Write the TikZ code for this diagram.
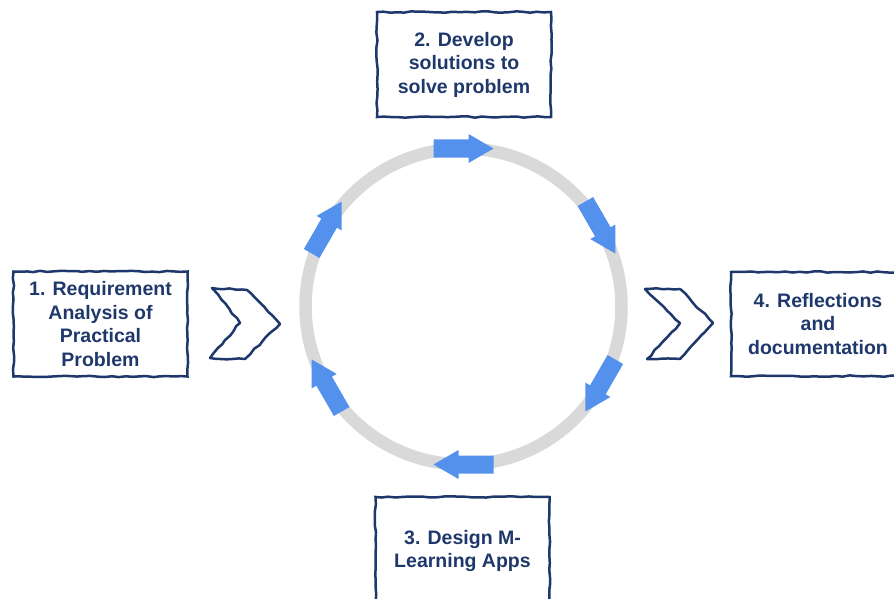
\documentclass[tikz,border=0pt]{standalone}
\usepackage{fontspec}
\setmainfont{Liberation Sans}
\usepackage{tikz}
\usetikzlibrary{positioning}
\usetikzlibrary{decorations.pathmorphing}
\definecolor{navy}{RGB}{31,56,107}
\definecolor{ringgray}{RGB}{217,217,217}
\definecolor{arrowblue}{RGB}{84,145,237}
\pgfmathsetseed{11}

\begin{document}
\begin{tikzpicture}[x=1pt, y=-1pt,
    every node/.style={font=\bfseries\fontsize{19.5}{23.5}\selectfont, text=navy, align=center},
    stepbox/.style={draw=navy, line width=2.5pt, inner sep=0pt, minimum width=174pt, minimum height=105pt,
      decorate, decoration={random steps, segment length=7pt, amplitude=0.7pt}},
    chevron/.style={draw=navy, line width=2.5pt, line join=round,
      decorate, decoration={random steps, segment length=6pt, amplitude=0.9pt}}]
            \useasboundingbox (0,0) rectangle (894,599);
            \clip (0,0) rectangle (894,599);

            % Nodos
            \node[stepbox] (req) at (100.5,324) {1. Requirement\\Analysis of\\Practical\\Problem};
            \node[stepbox] (dev) at (464,64.5) {2. Develop\\solutions to\\solve problem};
            \node[stepbox, minimum height=108pt] (design) at (462.5,551) {3. Design M-\\Learning Apps};
            \node[stepbox, minimum height=104pt] (refl) at (818,324) {4. Reflections\\and\\documentation};

            % Chevrones
            \draw[chevron] (212,288) -- (247,290) -- (280,324) -- (245,359) -- (210,358) -- (240,323) -- cycle;
            \draw[chevron] (645,289) -- (680,289) -- (713,323) -- (680,359) -- (647,359) -- (680,323) -- cycle;

            % Circulo
            \coordinate (hub) at (463.5,306.5);
            \draw[ringgray, line width=12.5pt] (hub) circle (158);

            % Flechas
            \foreach \s in {90,30,-30,-90,-150,150}
              \fill[arrowblue, shift={(hub)}, shift={(-\s:158)}, rotate=\s-90]
                (-30,-9) -- (5,-9) -- (5,-14.5) -- (30,0) -- (5,14.5) -- (5,9) -- (-30,9) -- cycle;
          \end{tikzpicture}
\end{document}
